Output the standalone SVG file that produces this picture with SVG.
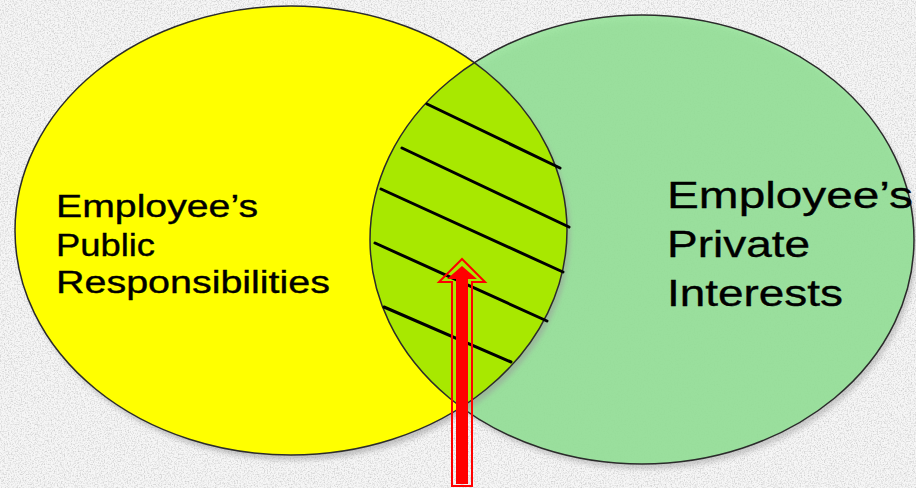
<svg xmlns="http://www.w3.org/2000/svg" width="916" height="488" viewBox="0 0 916 488">
  <style>
    .lbl { font-family: "Liberation Sans", Arial, sans-serif; fill: #000; stroke: #000; stroke-width: 0.35; }
    .hatch { stroke: #000; stroke-width: 3; stroke-linecap: round; fill: none; }
    .edge { fill: none; stroke: #2b2b2b; stroke-width: 1.5; }
  </style>
  <defs>
    <filter id="tex" x="0" y="0" width="100%" height="100%">
      <feTurbulence type="fractalNoise" baseFrequency="0.7" numOctaves="2" seed="4" result="n"/>
      <feColorMatrix in="n" type="matrix" values="0 0 0 0 0.6  0 0 0 0 0.6  0 0 0 0 0.6  2.2 0 0 0 -0.95"/>
    </filter>
    <filter id="shadow" x="-10%" y="-10%" width="125%" height="125%">
      <feDropShadow dx="3" dy="5" stdDeviation="2.5" flood-color="#9a9a9a" flood-opacity="0.55"/>
    </filter>
    <clipPath id="greenClip">
      <ellipse cx="642" cy="239.5" rx="272" ry="224.5"/>
    </clipPath>
    <clipPath id="yellowClip">
      <ellipse cx="291" cy="230.5" rx="276" ry="224.5"/>
    </clipPath>
  </defs>

  <g id="background">
    <rect x="0" y="0" width="916" height="488" fill="#f6f6f6"/>
    <rect x="0" y="0" width="916" height="488" filter="url(#tex)"/>
  </g>

  <g id="private-interests">
    <ellipse cx="642" cy="239.5" rx="272" ry="224.5" fill="#92e295" fill-opacity="0.85" filter="url(#shadow)"/>
    <ellipse cx="642" cy="239.5" rx="272" ry="224.5" class="edge" stroke="#27402a"/>
    <text class="lbl" font-size="36">
      <tspan x="667" y="208" textLength="246" lengthAdjust="spacingAndGlyphs">Employee’s</tspan>
      <tspan x="667" y="257" textLength="143" lengthAdjust="spacingAndGlyphs">Private</tspan>
      <tspan x="667" y="306" textLength="176" lengthAdjust="spacingAndGlyphs">Interests</tspan>
    </text>
  </g>

  <g id="public-responsibilities">
    <ellipse cx="291" cy="230.5" rx="276" ry="224.5" fill="#ffff00" filter="url(#shadow)"/>
    <text class="lbl" font-size="31">
      <tspan x="56" y="217" textLength="202" lengthAdjust="spacingAndGlyphs">Employee’s</tspan>
      <tspan x="56" y="256" textLength="99" lengthAdjust="spacingAndGlyphs">Public</tspan>
      <tspan x="56" y="293" textLength="274" lengthAdjust="spacingAndGlyphs">Responsibilities</tspan>
    </text>
  </g>

  <g id="overlap">
    <ellipse cx="291" cy="230.5" rx="276" ry="224.5" fill="#a8e800" clip-path="url(#greenClip)"/>
    <ellipse cx="642" cy="239.5" rx="272" ry="224.5" class="edge" stroke="#27402a" clip-path="url(#yellowClip)"/>
    <ellipse cx="291" cy="230.5" rx="276" ry="224.5" class="edge"/>
    <line class="hatch" x1="427" y1="104" x2="560" y2="168"/>
    <line class="hatch" x1="402" y1="148" x2="569" y2="227"/>
    <line class="hatch" x1="381" y1="189" x2="563" y2="272"/>
    <line class="hatch" x1="375" y1="243" x2="547" y2="321"/>
    <line class="hatch" x1="384" y1="307" x2="511" y2="362"/>
  </g>

  <g id="connectors">
    <path d="M462,259 L439,282 L452,282 L452,486 L472,486 L472,282 L485,282 Z" fill="none" stroke="#ff0000" stroke-width="2"/>
    <path d="M462,266 L447,279 L456,279 L456,484 L468,484 L468,279 L477,279 Z" fill="#ff0000"/>
  </g>
</svg>
